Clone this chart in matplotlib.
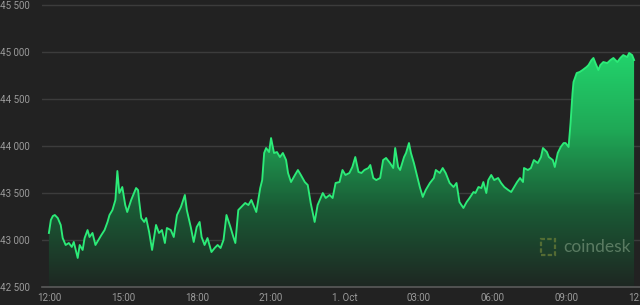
import numpy as np
import matplotlib.pyplot as plt
from matplotlib.colors import LinearSegmentedColormap
from matplotlib.patches import Rectangle

# hours since 12:00 (30 Sep) and BTC price
hours = [0.00, 0.08, 0.16, 0.24, 0.36, 0.48, 0.56, 0.68, 0.81, 0.93, 1.01, 1.09, 1.17, 1.25,
         1.37, 1.45, 1.57, 1.65, 1.77, 1.89, 2.01, 2.13, 2.26, 2.38, 2.46, 2.58, 2.70, 2.78,
         2.86, 2.98, 3.10, 3.18, 3.34, 3.54, 3.62, 3.66, 3.75, 3.87, 3.95, 4.07, 4.19, 4.35,
         4.47, 4.59, 4.71, 4.79, 4.95, 5.07, 5.20, 5.36, 5.52, 5.60, 5.76, 5.88, 6.00, 6.12,
         6.20, 6.32, 6.44, 6.60, 6.73, 6.85, 6.97, 7.09, 7.21, 7.37, 7.49, 7.57, 7.69, 7.81,
         7.97, 8.10, 8.22, 8.34, 8.42, 8.58, 8.66, 8.74, 8.82, 8.94, 9.02, 9.14, 9.26, 9.38,
         9.50, 9.63, 9.71, 9.83, 9.99, 10.11, 10.23, 10.39, 10.51, 10.63, 10.79, 10.91, 11.12,
         11.24, 11.40, 11.52, 11.64, 11.80, 11.92, 12.04, 12.20, 12.32, 12.44, 12.57, 12.69,
         12.81, 12.97, 13.05, 13.17, 13.29, 13.45, 13.57, 13.69, 13.85, 13.98, 14.06, 14.18,
         14.26, 14.42, 14.50, 14.62, 14.70, 14.82, 14.94, 15.06, 15.18, 15.30, 15.47, 15.63,
         15.71, 15.87, 15.99, 16.11, 16.27, 16.43, 16.55, 16.67, 16.83, 16.96, 17.08, 17.24,
         17.32, 17.44, 17.56, 17.64, 17.76, 17.84, 17.96, 18.08, 18.24, 18.36, 18.49, 18.65,
         18.77, 18.89, 19.01, 19.13, 19.25, 19.29, 19.45, 19.57, 19.69, 19.85, 19.98, 20.06,
         20.22, 20.30, 20.46, 20.54, 20.66, 20.78, 20.90, 20.98, 21.10, 21.18, 21.26, 21.30,
         21.43, 21.55, 21.67, 21.83, 21.91, 22.03, 22.11, 22.19, 22.31, 22.39, 22.51, 22.67,
         22.80, 22.92, 23.08, 23.20, 23.32, 23.48, 23.56, 23.68, 23.76]
price = [43075, 43213, 43255, 43266, 43234, 43160, 43021, 42947, 42968, 42926, 42979, 42894, 42809, 42947,
         42894, 43021, 43106, 43032, 43075, 42947, 43000, 43053, 43106, 43192, 43266, 43319, 43426, 43734,
         43500, 43564, 43372, 43298, 43426, 43553, 43532, 43426, 43234, 43192, 43234, 43085, 42894, 43160,
         43075, 43106, 42968, 43128, 43106, 43032, 43266, 43351, 43479, 43319, 43138, 42979, 43138, 43192,
         43032, 42947, 43021, 42872, 42915, 42947, 42915, 43000, 43266, 43138, 43032, 42968, 43319, 43351,
         43394, 43372, 43426, 43351, 43298, 43553, 43638, 43926, 43979, 43936, 44085, 43926, 43936, 43883,
         43926, 43851, 43713, 43617, 43692, 43745, 43692, 43617, 43585, 43394, 43192, 43372, 43500,
         43447, 43479, 43447, 43607, 43617, 43745, 43692, 43713, 43777, 43883, 43724, 43713,
         43745, 43766, 43798, 43660, 43638, 43660, 43851, 43873, 43819, 43766, 43979, 43777,
         43745, 43883, 43926, 44032, 43926, 43819, 43692, 43564, 43458, 43532, 43607, 43660,
         43745, 43713, 43766, 43713, 43607, 43564, 43607, 43404, 43341, 43404, 43447, 43511,
         43500, 43564, 43553, 43617, 43500, 43638, 43692, 43638, 43660, 43607, 43564, 43532,
         43511, 43564, 43617, 43660, 43617, 43766, 43745, 43766, 43851, 43819, 43883, 43979,
         43936, 43883, 43851, 43777, 43926, 43990, 44032, 44032, 43990, 44245, 44564, 44681,
         44777, 44788, 44809, 44841, 44862, 44915, 44937, 44883, 44809, 44862, 44894, 44883,
         44915, 44937, 44894, 44937, 44968, 44947, 44990, 44968, 44915]

ytick_vals = [42500, 43000, 43500, 44000, 44500, 45000, 45500]
ytick_labels = ['42 500', '43 000', '43 500', '44 000', '44 500', '45 000', '45 500']
xtick_vals = [0, 3, 6, 9, 12, 15, 18, 21, 24]
xtick_labels = ['12:00', '15:00', '18:00', '21:00', '1. Oct', '03:00', '06:00', '09:00', '12:00']

bg = '#222222'
plt.rcParams['font.family'] = ['Roboto', 'DejaVu Sans']

fig = plt.figure(figsize=(6.4, 3.05), dpi=100, facecolor=bg)
ax = fig.add_axes([42 / 640, 18 / 305, 598 / 640, 287 / 305])
ax.set_facecolor(bg)

ymin, ymax = 42500, 45554
xmin, xmax = -0.28, 23.80
ax.set_xlim(xmin, xmax)
ax.set_ylim(ymin, ymax)

for v in ytick_vals[1:]:
    ax.axhline(v, color='#3c3c3c', lw=1.0, zorder=1)
ax.axhline(42500, color='#5a5a5a', lw=1.2, zorder=5, clip_on=False)

# gradient fill under the line
poly = ax.fill_between(hours, price, ymin, color='none', lw=0)
cmap = LinearSegmentedColormap.from_list('g', ['#1e2722', '#1a5a35', '#1fa856', '#22d46c'])
grad = np.linspace(0, 1, 256).reshape(-1, 1)
img = ax.imshow(grad, cmap=cmap, aspect='auto', origin='lower',
                extent=[xmin, xmax, ymin, 45000], zorder=2)
img.set_clip_path(poly.get_paths()[0], transform=ax.transData)

ax.plot(hours, price, color='#2ceb78', lw=1.35, zorder=4)

for s in ax.spines.values():
    s.set_visible(False)
ax.set_xticks(xtick_vals)
ax.set_xticklabels(xtick_labels)
ax.set_yticks(ytick_vals)
ax.set_yticklabels(ytick_labels)
ax.tick_params(axis='both', length=0, colors='#9a9a9a', labelsize=7)
ax.tick_params(axis='x', pad=4)
ax.tick_params(axis='y', pad=0)
for lab in ax.get_yticklabels():
    lab.set_horizontalalignment('left')
    lab.set_x(-42 / 598)

# watermark
fig.text(563 / 640, 1 - 247 / 305, 'coindesk', color='#6f8f74', alpha=0.75,
         fontsize=12.5, va='center', ha='left', family='Lato')
fig.patches.append(Rectangle((541 / 640, 1 - 255 / 305), 14 / 640, 16 / 305,
                             transform=fig.transFigure, fill=False,
                             edgecolor='#7a8a3a', lw=1.6, alpha=0.6, ls=(0, (2, 1))))

fig.savefig('out.png', dpi=100, facecolor=bg)
